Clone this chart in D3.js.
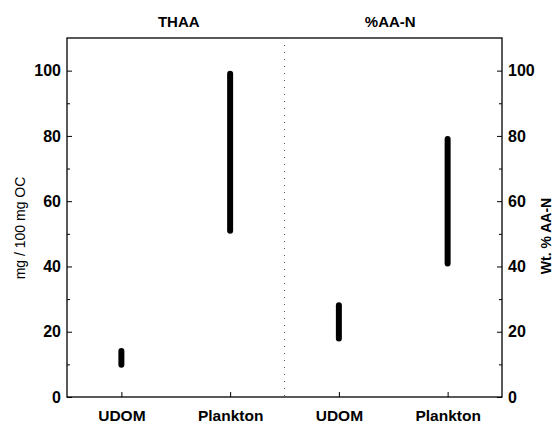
<!DOCTYPE html>
<html>
<head>
<meta charset="utf-8">
<script src="https://cdn.jsdelivr.net/npm/d3@7"></script>
<style>
  body { margin: 0; background: #fff; }
  text { font-family: "Liberation Sans", Arial, sans-serif; font-weight: bold; fill: #000; }
</style>
</head>
<body>
<div id="chart"></div>
<script>
// panels and categories
var panels = ["THAA", "%AA-N"];
var categories = ["UDOM", "Plankton"];
// ranges [low, high] for each panel, per category
var thaaRanges = [[9, 15], [50, 100]];
var aanRanges = [[17, 29], [40, 80]];
var yTicks = [0, 20, 40, 60, 80, 100];
var yMinor = [10, 30, 50, 70, 90];

var width = 555, height = 424;
var plotL = 67, plotR = 502, plotT = 38, plotB = 397;
var mid = (plotL + plotR) / 2;

var svg = d3.select("#chart").append("svg")
  .attr("width", width)
  .attr("height", height);

var y = d3.scaleLinear().domain([0, 110]).range([plotB, plotT]);

// one point scale per panel
var xLeft = d3.scalePoint().domain(categories).range([plotL, mid]).padding(0.5);
var xRight = d3.scalePoint().domain(categories).range([mid, plotR]).padding(0.5);

// frame
svg.append("rect")
  .attr("x", plotL).attr("y", plotT)
  .attr("width", plotR - plotL).attr("height", plotB - plotT)
  .attr("fill", "none").attr("stroke", "#000").attr("stroke-width", 1.3);

// dotted divider
svg.append("line")
  .attr("x1", mid).attr("x2", mid)
  .attr("y1", plotT).attr("y2", plotB)
  .attr("stroke", "#555").attr("stroke-width", 1)
  .attr("stroke-dasharray", "1,6");

// y axes (ticks pointing into the plot)
svg.append("g").attr("transform", "translate(" + plotL + ",0)")
  .call(d3.axisLeft(y).tickValues(yTicks).tickSize(-5).tickPadding(6));
svg.append("g").attr("transform", "translate(" + plotR + ",0)")
  .call(d3.axisRight(y).tickValues(yTicks).tickSize(-5).tickPadding(6));
svg.append("g").attr("transform", "translate(" + plotL + ",0)")
  .call(d3.axisLeft(y).tickValues(yMinor).tickSize(-3).tickFormat(""));
svg.append("g").attr("transform", "translate(" + plotR + ",0)")
  .call(d3.axisRight(y).tickValues(yMinor).tickSize(-3).tickFormat(""));

// x axes
var xaL = svg.append("g").attr("transform", "translate(0," + plotB + ")")
  .call(d3.axisBottom(xLeft).tickSize(-5).tickPadding(13));
var xaR = svg.append("g").attr("transform", "translate(0," + plotB + ")")
  .call(d3.axisBottom(xRight).tickSize(-5).tickPadding(13));

svg.selectAll(".domain").remove();
svg.selectAll(".tick line").attr("stroke", "#000").attr("stroke-width", 1);
svg.selectAll(".tick text").style("font-size", "16px");
xaL.selectAll(".tick text").style("font-size", "15.5px");
xaR.selectAll(".tick text").style("font-size", "15.5px");

// panel titles
svg.selectAll(".panel-title")
  .data(panels)
  .enter().append("text")
  .attr("class", "panel-title")
  .attr("x", function(d, i) { return i === 0 ? (plotL + mid) / 2 + 3 : (mid + plotR) / 2 - 3; })
  .attr("y", 27)
  .attr("text-anchor", "middle")
  .style("font-size", "15px")
  .text(function(d) { return d; });

// range bars
function drawBars(ranges, xs) {
  svg.append("g").selectAll("rect")
    .data(ranges)
    .enter().append("rect")
    .attr("x", function(d, i) { return xs(categories[i]) - 3; })
    .attr("y", function(d) { return y(d[1]); })
    .attr("width", 6)
    .attr("height", function(d) { return y(d[0]) - y(d[1]); })
    .attr("rx", 3)
    .attr("fill", "#000");
}
drawBars(thaaRanges, xLeft);
drawBars(aanRanges, xRight);

// axis titles
svg.append("text")
  .attr("transform", "translate(20," + 228 + ") rotate(-90)")
  .attr("text-anchor", "middle")
  .attr("dy", "0.35em")
  .style("font-size", "14px")
  .style("font-weight", "normal")
  .text("mg / 100 mg OC");

svg.append("text")
  .attr("transform", "translate(546," + 236 + ") rotate(-90)")
  .attr("text-anchor", "middle")
  .attr("dy", "0.35em")
  .style("font-size", "14px")
  .text("Wt. % AA-N");
</script>
</body>
</html>
